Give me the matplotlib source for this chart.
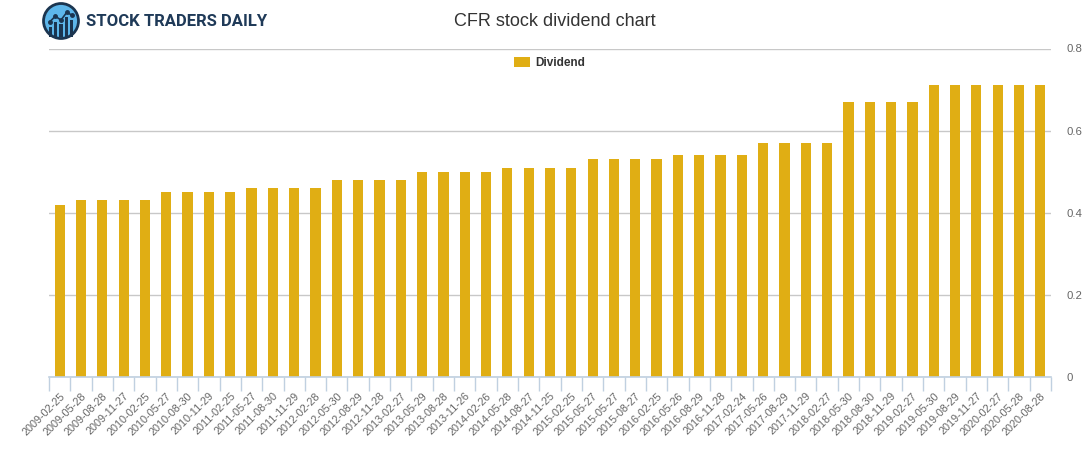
"""CFR stock dividend chart - quarterly dividend per share."""

import matplotlib
matplotlib.use("Agg")
import matplotlib.pyplot as plt
from matplotlib.patches import Circle, Rectangle
import numpy as np

datas = [
    "2009-02-25", "2009-05-28", "2009-08-28", "2009-11-27",
    "2010-02-25", "2010-05-27", "2010-08-30", "2010-11-29",
    "2011-02-25", "2011-05-27", "2011-08-30", "2011-11-29",
    "2012-02-28", "2012-05-30", "2012-08-29", "2012-11-28",
    "2013-02-27", "2013-05-29", "2013-08-28", "2013-11-26",
    "2014-02-26", "2014-05-28", "2014-08-27", "2014-11-25",
    "2015-02-25", "2015-05-27", "2015-05-27", "2015-08-27",
    "2016-02-25", "2016-05-26", "2016-08-29", "2016-11-28",
    "2017-02-24", "2017-05-26", "2017-08-29", "2017-11-29",
    "2018-02-27", "2018-05-30", "2018-08-30", "2018-11-29",
    "2019-02-27", "2019-05-30", "2019-08-29", "2019-11-27",
    "2020-02-27", "2020-05-28", "2020-08-28",
]
dividendos = [
    0.42, 0.43, 0.43, 0.43,
    0.43, 0.45, 0.45, 0.45,
    0.45, 0.46, 0.46, 0.46,
    0.46, 0.48, 0.48, 0.48,
    0.48, 0.50, 0.50, 0.50,
    0.50, 0.51, 0.51, 0.51,
    0.51, 0.53, 0.53, 0.53,
    0.53, 0.54, 0.54, 0.54,
    0.54, 0.57, 0.57, 0.57,
    0.57, 0.67, 0.67, 0.67,
    0.67, 0.71, 0.71, 0.71,
    0.71, 0.71, 0.71,
]
marcas_y = [0, 0.2, 0.4, 0.6, 0.8]
rotulos_y = ["0", "0.2", "0.4", "0.6", "0.8"]

W, H = 1091, 450
fig = plt.figure(figsize=(W / 100, H / 100), dpi=100)
plt.rcParams["font.family"] = ["Liberation Sans", "DejaVu Sans"]

ax = fig.add_axes([49 / W, 1 - 377 / H, 1002 / W, (377 - 48.5) / H])
x = np.arange(len(datas))
ax.bar(x, dividendos, width=0.48, color="#E0AE14", label="Dividend", zorder=3)

ax.set_xlim(-0.5, len(datas) - 0.5)
ax.set_ylim(0, 0.8)
ax.set_yticks(marcas_y)
ax.set_yticklabels(rotulos_y)
ax.yaxis.tick_right()
ax.tick_params(axis="y", length=0, pad=11, labelsize=8.2, labelcolor="#666666")
ax.grid(axis="y", color="#C8C8C8", linewidth=1, zorder=0)

ax.set_xticks(x)
ax.set_xticklabels(datas, rotation=45, ha="right", rotation_mode="anchor",
                   fontsize=7.8, color="#666666")
ax.set_xticks(np.arange(len(datas) + 1) - 0.5, minor=True)
ax.tick_params(axis="x", which="major", length=0, pad=10)
ax.tick_params(axis="x", which="minor", length=10, color="#C0D0E0", width=1)

for lado in ["top", "left", "right"]:
    ax.spines[lado].set_visible(False)
ax.spines["bottom"].set_color("#C0D0E0")
ax.spines["bottom"].set_linewidth(1.2)
ax.spines["bottom"].set_zorder(4)

fig.text(555 / W, 1 - 22 / H, "CFR stock dividend chart", ha="center", va="center",
         fontsize=13, color="#333333")

fig.legend(loc="center", bbox_to_anchor=(550 / W, 1 - 63 / H), frameon=False,
           handlelength=1.3, handleheight=0.9, handletextpad=0.5,
           prop={"size": 8.5, "weight": "bold"}, labelcolor="#333333")

# logo
logo = fig.add_axes([42 / W, 1 - 40 / H, 38 / W, 38 / H])
logo.set_xlim(-1, 1)
logo.set_ylim(-1, 1)
logo.set_aspect("equal")
logo.axis("off")
logo.add_patch(Circle((0, 0), 0.92, facecolor="#5DB6EA", edgecolor="#1B3550", linewidth=2))
for bx, bh in zip([-0.55, -0.28, 0.0, 0.28, 0.55], [0.55, 0.8, 0.7, 1.05, 0.9]):
    logo.add_patch(Rectangle((bx - 0.09, -0.85), 0.18, bh, facecolor="#1B3550"))
linha_x = [-0.6, -0.3, 0.0, 0.3, 0.6]
linha_y = [-0.05, 0.25, 0.05, 0.45, 0.3]
logo.plot(linha_x, linha_y, color="#1B3550", linewidth=1.2)
logo.plot(linha_x, linha_y, "o", color="#1B3550", markersize=2.5)

fig.text(86 / W, 1 - 21 / H, "STOCK TRADERS DAILY", ha="left", va="center",
         fontsize=12, fontweight="bold", color="#1F3A58", family=["Roboto", "DejaVu Sans"])

fig.savefig("out.png", dpi=100)
plt.close(fig)
